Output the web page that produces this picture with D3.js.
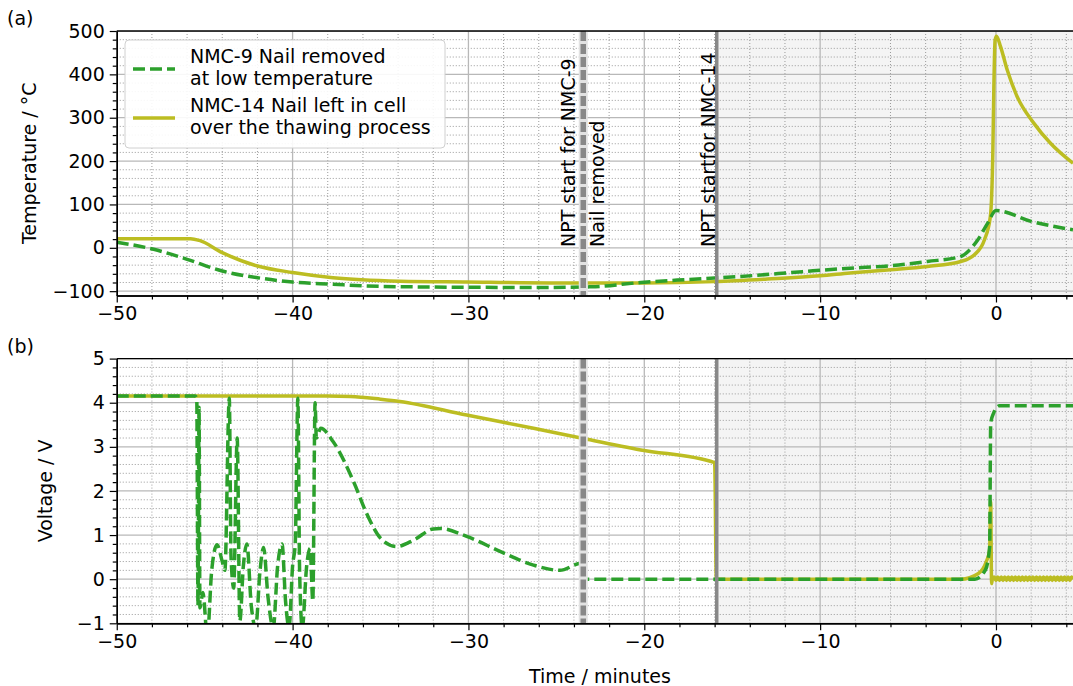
<!DOCTYPE html>
<html>
<head>
<meta charset="utf-8">
<script src="https://cdn.jsdelivr.net/npm/d3@7"></script>
<style>
body { margin: 0; background: #fff; }
text { font-family: "DejaVu Sans", sans-serif; }
</style>
</head>
<body>
<script>
// Temperature of NMC-9 (nail removed at low temperature)
var time_temp_nmc9 = [-50, -47.9, -46, -44, -42, -40, -37.7, -35.8, -32, -26, -23, -20.2, -17.5, -14.5, -11, -8.3, -6, -3.9, -2, -1.5, -1.04, -0.47, 0, 2, 4.38];
var temp_nmc9      = [13, -3.5, -26.5, -53.5, -69, -79, -84, -88, -90.5, -91.5, -90, -80, -73, -66, -55, -47, -41.5, -31.5, -20, -5, 18, 57, 86, 61, 41.5];

// Temperature of NMC-14 (nail left in cell)
var time_temp_nmc14 = [-50, -45.8, -45.3, -44, -42, -40, -37.7, -33.9, -30.1, -25.3, -20, -16, -13, -10, -8.3, -6, -3.9, -2, -1.23, -0.66, -0.32, -0.18, -0.12, -0.05, 0.03, 0.26, 0.64, 1.2, 2.16, 3.1, 4.38];
var temp_nmc14      = [21, 21, 17, -11, -42, -57, -69, -77, -79, -81, -81, -78, -72, -64.5, -58, -50.7, -43, -31.5, -16, 18, 72, 218, 372, 479, 488, 464, 410, 349, 287, 241, 195];

// Voltage of NMC-9
var time_volt_nmc9 = [-50, -45.55, -45.45, -45.38, -45.32, -45.27, -45.1, -44.85, -44.6, -44.3, -44.0, -43.85, -43.6, -43.5, -43.35, -43.15, -43.0, -42.8, -42.6, -42.35, -42.1, -41.85, -41.65, -41.4, -41.1, -40.85, -40.6, -40.4, -40.2, -40.0, -39.85, -39.7, -39.6, -39.45, -39.2, -39.0, -38.85, -38.72, -38.65, -38.4, -37.7, -36.5, -35.8, -35.0, -34.1, -33.1, -32.0, -31.6, -30.1, -28.2, -26.3, -24.8, -23.6, -23.45, -1.2, -0.6, -0.36, -0.3, -0.14, 0.2, 4.38];
var volt_nmc9      = [4.15, 4.15, 4.1, -0.6, 3.9, -0.65, -0.3, -1.3, 0.2, 0.78, 0.4, 0.2, 4.1, 0.5, -0.2, 3.2, -0.95, 0.3, 0.8, -0.6, -1.1, 0.2, 0.72, -0.4, -1.1, 0.3, 0.8, -0.5, -1.1, 0.3, 0.8, 4.1, 0.15, -1.1, 0.3, 0.7, -0.5, 4.0, 3.2, 3.42, 3.12, 2.18, 1.5, 0.93, 0.74, 0.89, 1.14, 1.15, 0.97, 0.63, 0.32, 0.2, 0.36, 0.0, 0.0, 0.21, 0.74, 3.54, 3.76, 3.93, 3.93];

// Voltage of NMC-14 (noisy band near 0 V after the temperature spike)
var time_volt_nmc14 = [-50, -38, -36.7, -35, -33.9, -30.1, -26.3, -23.6, -20.2, -16, -15.9, -2, -1.0, -0.55, -0.36, -0.3, -0.25, -0.2,
    -0.1, 0.0, 0.1, 0.2, 0.3, 0.4, 0.5, 0.6, 0.7, 0.8, 0.9, 1.0, 1.1, 1.2, 1.3, 1.4, 1.5, 1.6, 1.7, 1.8, 1.9, 2.0, 2.1, 2.2,
    2.3, 2.4, 2.5, 2.6, 2.7, 2.8, 2.9, 3.0, 3.1, 3.2, 3.3, 3.4, 3.5, 3.6, 3.7, 3.8, 3.9, 4.0, 4.1, 4.2, 4.3, 4.38];
var volt_nmc14      = [4.15, 4.15, 4.14, 4.08, 4.03, 3.72, 3.42, 3.2, 2.93, 2.64, 0.0, 0.0, 0.13, 0.4, 0.66, 1.76, -0.1, 0.02,
    0.05, -0.03, 0.05, -0.03, 0.05, -0.03, 0.05, -0.03, 0.05, -0.03, 0.05, -0.03, 0.05, -0.03, 0.05, -0.03, 0.05, -0.03, 0.05, -0.03, 0.05, -0.03, 0.05, -0.03,
    0.05, -0.03, 0.05, -0.03, 0.05, -0.03, 0.05, -0.03, 0.05, -0.03, 0.05, -0.03, 0.05, -0.03, 0.05, -0.03, 0.05, -0.03, 0.05, -0.03, 0.05, 0.0];

// Events (minutes)
var nail_removed_time = -23.47;
var npt_nmc14_time    = -15.88;

var legend_labels = [["NMC-9 Nail removed", "at low temperature"], ["NMC-14 Nail left in cell", "over the thawing process"]];

var green  = "#2ca02c";
var olive  = "#bcbd22";
var width  = 1073;
var height = 686;
var font_size = 19;

var svg = d3.select('body').append('svg')
    .attr('width', width)
    .attr('height', height);

var x = d3.scaleLinear().domain([-50, 4.38]).range([116.75, 1073]);
var x_major = d3.range(-50, 1, 10);
var x_minor = d3.range(-50, 4.4, 2).filter(function (d) { return d % 10 != 0; });

function zip(t, v) {
    return t.map(function (d, i) { return [d, v[i]]; });
}

function draw_panel(o) {
    var y = d3.scaleLinear().domain(o.domain).range([o.bottom, o.top]);
    var g = svg.append('g');
    var clip_id = 'clip' + o.name;
    svg.append('clipPath').attr('id', clip_id)
        .append('rect')
        .attr('x', x.range()[0]).attr('y', o.top)
        .attr('width', x.range()[1] - x.range()[0])
        .attr('height', o.bottom - o.top);

    var inner = g.append('g').attr('clip-path', 'url(#' + clip_id + ')');

    // shaded area after NPT start for NMC-14
    inner.append('rect')
        .attr('x', x(npt_nmc14_time)).attr('y', o.top)
        .attr('width', x.range()[1] - x(npt_nmc14_time))
        .attr('height', o.bottom - o.top)
        .attr('fill', '#f4f4f4');

    // minor grid
    inner.selectAll('.vminor').data(x_minor).enter().append('line')
        .attr('x1', x).attr('x2', x).attr('y1', o.top).attr('y2', o.bottom)
        .attr('stroke', '#9a9a9a').attr('stroke-width', 1).attr('stroke-dasharray', '1,2');
    inner.selectAll('.hminor').data(o.minor).enter().append('line')
        .attr('x1', x.range()[0]).attr('x2', x.range()[1]).attr('y1', y).attr('y2', y)
        .attr('stroke', '#9a9a9a').attr('stroke-width', 1).attr('stroke-dasharray', '1,2');
    // major grid
    inner.selectAll('.vmajor').data(x_major).enter().append('line')
        .attr('x1', x).attr('x2', x).attr('y1', o.top).attr('y2', o.bottom)
        .attr('stroke', '#b8b8b8').attr('stroke-width', 1.3);
    inner.selectAll('.hmajor').data(o.major).enter().append('line')
        .attr('x1', x.range()[0]).attr('x2', x.range()[1]).attr('y1', y).attr('y2', y)
        .attr('stroke', '#b8b8b8').attr('stroke-width', 1.3);

    var line = d3.line()
        .x(function (d) { return x(d[0]); })
        .y(function (d) { return y(d[1]); })
        .curve(d3.curveMonotoneX);

    inner.append('path').datum(o.series14)
        .attr('d', line).attr('fill', 'none')
        .attr('stroke', olive).attr('stroke-width', 3.5).attr('stroke-linejoin', 'round');
    inner.append('path').datum(o.series9)
        .attr('d', line).attr('fill', 'none')
        .attr('stroke', green).attr('stroke-width', 3.5)
        .attr('stroke-dasharray', '12,5');

    // event lines
    inner.append('line')
        .attr('x1', x(nail_removed_time)).attr('x2', x(nail_removed_time))
        .attr('y1', o.top).attr('y2', o.bottom)
        .attr('stroke', '#e2e2e2').attr('stroke-width', 9);
    inner.append('line')
        .attr('x1', x(nail_removed_time)).attr('x2', x(nail_removed_time))
        .attr('y1', o.top).attr('y2', o.bottom)
        .attr('stroke', '#888').attr('stroke-width', 5.5).attr('stroke-dasharray', '10,3');
    inner.append('line')
        .attr('x1', x(npt_nmc14_time)).attr('x2', x(npt_nmc14_time))
        .attr('y1', o.top).attr('y2', o.bottom)
        .attr('stroke', '#888').attr('stroke-width', 3.5);

    // axes
    g.append('g').attr('transform', 'translate(0,' + o.bottom + ')')
        .call(d3.axisBottom(x).tickValues(x_major).tickSize(7).tickSizeOuter(0).tickPadding(4));
    g.append('g').attr('transform', 'translate(0,' + o.bottom + ')')
        .call(d3.axisBottom(x).tickValues(x_minor).tickSize(4).tickSizeOuter(0).tickFormat(''));
    g.append('g').attr('transform', 'translate(' + x.range()[0] + ',0)')
        .call(d3.axisLeft(y).tickValues(o.major).tickSize(7).tickSizeOuter(0).tickPadding(5).tickFormat(d3.format('d')));
    g.append('g').attr('transform', 'translate(' + x.range()[0] + ',0)')
        .call(d3.axisLeft(y).tickValues(o.minor).tickSize(4).tickSizeOuter(0).tickFormat(''));
    g.selectAll('.domain').attr('stroke', '#000').attr('stroke-width', 1.4);
    g.selectAll('.tick line').attr('stroke', '#000').attr('stroke-width', 1.2);
    g.selectAll('.tick text').attr('font-size', font_size).attr('fill', '#000')
        .attr('font-family', '"DejaVu Sans", sans-serif');
    // top spine
    g.append('line')
        .attr('x1', x.range()[0]).attr('x2', x.range()[1])
        .attr('y1', o.top).attr('y2', o.top)
        .attr('stroke', '#000').attr('stroke-width', 1.4);

    // y label
    g.append('text')
        .attr('transform', 'translate(' + o.label_x + ',' + ((o.top + o.bottom) / 2) + ') rotate(-90)')
        .attr('text-anchor', 'middle').attr('dy', '0.35em')
        .attr('font-size', font_size)
        .text(o.label);
    // panel letter
    svg.append('text')
        .attr('x', 7).attr('y', o.top - 6)
        .attr('font-size', font_size)
        .text(o.panel);
    return { y: y, g: g };
}

var top_panel = draw_panel({
    name: 'a', panel: '(a)', label: 'Temperature / °C', label_x: 29,
    domain: [-110, 500], top: 31, bottom: 295.5,
    major: d3.range(-100, 501, 100),
    minor: d3.range(-100, 501, 20).filter(function (d) { return d % 100 != 0; }),
    series9: zip(time_temp_nmc9, temp_nmc9),
    series14: zip(time_temp_nmc14, temp_nmc14)
});

var bottom_panel = draw_panel({
    name: 'b', panel: '(b)', label: 'Voltage / V', label_x: 45,
    domain: [-1, 5], top: 358.6, bottom: 623.3,
    major: d3.range(-1, 5.01, 1),
    minor: d3.range(-5, 26, 1).map(function (d) { return d / 5; }).filter(function (d) { return d % 1 != 0; }),
    series9: zip(time_volt_nmc9, volt_nmc9),
    series14: zip(time_volt_nmc14, volt_nmc14)
});

// event annotations in top panel
var notes = [
    { t: nail_removed_time, dx: -8, text: 'NPT start for NMC-9' },
    { t: nail_removed_time, dx: 21, text: 'Nail removed' },
    { t: npt_nmc14_time, dx: -2, text: 'NPT startfor NMC-14' }
];
svg.selectAll('.note').data(notes).enter().append('text')
    .attr('transform', function (d) {
        return 'translate(' + (x(d.t) + d.dx) + ',247) rotate(-90)';
    })
    .attr('font-size', font_size)
    .text(function (d) { return d.text; });

// x label
svg.append('text')
    .attr('x', 600).attr('y', 683)
    .attr('text-anchor', 'middle')
    .attr('font-size', font_size)
    .text('Time / minutes');

// legend
var legend = svg.append('g');
legend.append('rect')
    .attr('x', 125).attr('y', 40).attr('width', 320).attr('height', 108)
    .attr('rx', 4).attr('fill', '#fff').attr('fill-opacity', 0.9)
    .attr('stroke', '#d0d0d0').attr('stroke-width', 1);
var legend_y = [69, 118];
legend.append('line')
    .attr('x1', 133).attr('x2', 175).attr('y1', legend_y[0]).attr('y2', legend_y[0])
    .attr('stroke', green).attr('stroke-width', 3.5).attr('stroke-dasharray', '12,5');
legend.append('line')
    .attr('x1', 133).attr('x2', 175).attr('y1', legend_y[1]).attr('y2', legend_y[1])
    .attr('stroke', olive).attr('stroke-width', 3.5);
legend_labels.forEach(function (lines, i) {
    lines.forEach(function (s, j) {
        legend.append('text')
            .attr('x', 190).attr('y', legend_y[i] - 6 + j * 22)
            .attr('font-size', font_size)
            .text(s);
    });
});
</script>
</body>
</html>
